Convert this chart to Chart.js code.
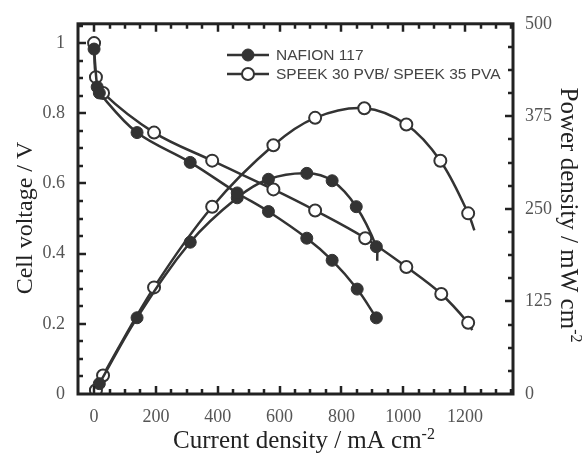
<!DOCTYPE html>
<html><head><meta charset="utf-8">
<script src="https://cdn.jsdelivr.net/npm/chart.js@4.4.0/dist/chart.umd.min.js"></script>
<style>html,body{margin:0;padding:0;background:#fff}#wrap{width:584px;height:454px;position:relative}</style>
</head><body><div id="wrap"><canvas id="c" width="584" height="454"></canvas></div>
<script>
// ---- data ----
const nafionCurrentV = [0, 10, 17, 139, 311, 463, 564, 688, 770, 851, 913];
const nafionVoltage  = [0.983, 0.875, 0.858, 0.745, 0.660, 0.573, 0.520, 0.444, 0.381, 0.299, 0.217];
const nafionCurrentP = [17, 139, 311, 463, 564, 688, 770, 848, 913];
const nafionPower    = [14, 103, 205, 265, 290, 298, 288, 253, 199];
const speekCurrentV  = [0, 6, 29, 194, 382, 580, 715, 877, 1010, 1123, 1210];
const speekVoltage   = [1.0, 0.903, 0.858, 0.745, 0.665, 0.583, 0.523, 0.444, 0.362, 0.285, 0.203];
const speekCurrentP  = [6, 29, 194, 382, 580, 715, 874, 1010, 1120, 1210];
const speekPower     = [5, 25, 144, 253, 336, 373, 386, 364, 315, 244];
// fitted-curve ends that run past the last marker (no marker drawn)
const nafionPowerTail = {x: 916, y: 180};
const speekVoltageTail = {x: 1223, y: 0.182};
const speekPowerTail = {x: 1230, y: 221};

const xTickValues  = [0, 200, 400, 600, 800, 1000, 1200];
const xTickLabels  = ['0', '200', '400', '600', '800', '1000', '1200'];
const yTickValues  = [0, 0.2, 0.4, 0.6, 0.8, 1];
const yTickLabels  = ['0', '0.2', '0.4', '0.6', '0.8', '1'];
const y2TickValues = [0, 125, 250, 375, 500];
const y2TickLabels = ['0', '125', '250', '375', '500'];
const seriesNames  = ['NAFION 117', 'SPEEK 30 PVB/ SPEEK 35 PVA'];
const xTitle  = ['Current density / mA cm', '-2'];
const yTitle  = 'Cell voltage / V';
const y2Title = ['Power density / mW cm', '-2'];

const toPts = (xs, ys) => xs.map((x, i) => ({x: x, y: ys[i]}));
const INK = '#333333';
const SERIF = '"Liberation Serif","Times New Roman",serif';
const SANS = '"Liberation Sans",Arial,sans-serif';

function ds(label, data, axis, filled, tail) {
  const pts = tail ? data.concat([tail]) : data;
  const radii = pts.map((p, i) => (tail && i === pts.length - 1) ? 0 : 6);
  return {
    label: label, data: pts, yAxisID: axis, showLine: true,
    borderColor: INK, borderWidth: 2.5, tension: 0.35,
    pointRadius: radii, pointHoverRadius: radii, pointBorderWidth: filled ? 1 : 2,
    pointBackgroundColor: filled ? INK : '#ffffff', pointBorderColor: INK
  };
}

function textSup(ctx, main, sup, size, cx, baseY) {
  ctx.font = size + 'px ' + SERIF;
  const w1 = ctx.measureText(main).width;
  ctx.font = Math.round(size * 0.62) + 'px ' + SERIF;
  const w2 = ctx.measureText(sup).width;
  const start = cx - (w1 + w2) / 2;
  ctx.textAlign = 'left'; ctx.textBaseline = 'alphabetic';
  ctx.font = size + 'px ' + SERIF;
  ctx.fillText(main, start, baseY);
  ctx.font = Math.round(size * 0.62) + 'px ' + SERIF;
  ctx.fillText(sup, start + w1, baseY - size * 0.38);
}

const framePlugin = {
  id: 'frame',
  afterDatasetsDraw(chart) {
    const ctx = chart.ctx, a = chart.chartArea;
    const sx = chart.scales.x, sy = chart.scales.y, sy2 = chart.scales.y1;
    ctx.save();
    ctx.strokeStyle = '#222'; ctx.lineWidth = 2.5; ctx.lineCap = 'butt';
    ctx.beginPath();
    for (let v = -50; v <= 1350; v += 50) {
      const px = Math.round(sx.getPixelForValue(v));
      if (px <= a.left + 1 || px >= a.right - 1) continue;
      const L = (v % 200 === 0) ? 8 : 5;
      ctx.moveTo(px, a.bottom); ctx.lineTo(px, a.bottom - L);
      ctx.moveTo(px, a.top); ctx.lineTo(px, a.top + L);
    }
    for (let i = 0; i <= 21; i++) {
      const v = i * 0.05;
      const py = Math.round(sy.getPixelForValue(v));
      if (py <= a.top + 1 || py >= a.bottom - 1) continue;
      const L = (i % 4 === 0) ? 8 : 5;
      ctx.moveTo(a.left, py); ctx.lineTo(a.left + L, py);
    }
    for (let i = 0; i <= 16; i++) {
      const v = i * 31.25;
      const py = Math.round(sy2.getPixelForValue(v));
      if (py <= a.top + 1 || py >= a.bottom - 1) continue;
      const L = (i % 4 === 0) ? 8 : 5;
      ctx.moveTo(a.right, py); ctx.lineTo(a.right - L, py);
    }
    ctx.stroke();
    ctx.lineWidth = 3;
    ctx.strokeRect(a.left, a.top, a.right - a.left, a.bottom - a.top);
    ctx.restore();
  },
  afterDraw(chart) {
    const ctx = chart.ctx;
    ctx.save();
    ctx.fillStyle = '#222';
    // bottom title
    textSup(ctx, xTitle[0], xTitle[1], 25, 304, 448);
    // left title
    ctx.save();
    ctx.translate(32, 218); ctx.rotate(-Math.PI / 2);
    ctx.font = '24px ' + SERIF; ctx.textAlign = 'center'; ctx.textBaseline = 'alphabetic';
    ctx.fillText(yTitle, 0, 0);
    ctx.restore();
    // right title
    ctx.save();
    ctx.translate(561, 215); ctx.rotate(Math.PI / 2);
    ctx.fillStyle = '#222';
    textSup(ctx, y2Title[0], y2Title[1], 25, 0, 0);
    ctx.restore();
    // legend
    const items = [{y: 55, filled: true}, {y: 74, filled: false}];
    items.forEach((it, i) => {
      ctx.strokeStyle = INK; ctx.lineWidth = 2.5;
      ctx.beginPath(); ctx.moveTo(227, it.y); ctx.lineTo(269, it.y); ctx.stroke();
      ctx.beginPath(); ctx.arc(248, it.y, 6, 0, Math.PI * 2);
      ctx.fillStyle = it.filled ? INK : '#fff'; ctx.fill();
      ctx.lineWidth = it.filled ? 1 : 2; ctx.stroke();
      ctx.fillStyle = '#444'; ctx.font = '15.5px ' + SANS;
      ctx.textAlign = 'left'; ctx.textBaseline = 'middle';
      ctx.fillText(seriesNames[i], 276, it.y + 1);
    });
    ctx.restore();
  }
};

function labelFor(values, labels) {
  return (v) => { const i = values.indexOf(v); return i >= 0 ? labels[i] : ''; };
}

new Chart(document.getElementById('c'), {
  type: 'scatter',
  data: {
    datasets: [
      ds(seriesNames[0] + ' V', toPts(nafionCurrentV, nafionVoltage), 'y', true, null),
      ds(seriesNames[0] + ' P', toPts(nafionCurrentP, nafionPower), 'y1', true, nafionPowerTail),
      ds(seriesNames[1] + ' V', toPts(speekCurrentV, speekVoltage), 'y', false, speekVoltageTail),
      ds(seriesNames[1] + ' P', toPts(speekCurrentP, speekPower), 'y1', false, speekPowerTail)
    ]
  },
  options: {
    responsive: false, animation: false, devicePixelRatio: 1,
    layout: {padding: {top: 22, left: 0, right: 0, bottom: 0}},
    plugins: {legend: {display: false}, tooltip: {enabled: false}},
    scales: {
      x: {
        type: 'linear', position: 'bottom', min: -52, max: 1355,
        grid: {display: false, drawTicks: false}, border: {display: false},
        afterBuildTicks: s => { s.ticks = xTickValues.map(v => ({value: v})); },
        afterFit: s => { s.height = 60; },
        ticks: {padding: 12, color: '#555', font: {family: SERIF, size: 18}, maxRotation: 0, autoSkip: false,
          callback: labelFor(xTickValues, xTickLabels)}
      },
      y: {
        type: 'linear', position: 'left', min: 0, max: 1.055,
        grid: {display: false, drawTicks: false}, border: {display: false},
        afterBuildTicks: s => { s.ticks = yTickValues.map(v => ({value: v})); },
        afterFit: s => { s.width = 78; },
        ticks: {padding: 13, color: '#555', font: {family: SERIF, size: 18}, autoSkip: false,
          callback: labelFor(yTickValues, yTickLabels)}
      },
      y1: {
        type: 'linear', position: 'right', min: 0, max: 500,
        grid: {display: false, drawTicks: false}, border: {display: false},
        afterBuildTicks: s => { s.ticks = y2TickValues.map(v => ({value: v})); },
        afterFit: s => { s.width = 71; },
        ticks: {padding: 12, color: '#555', font: {family: SERIF, size: 18}, autoSkip: false,
          callback: labelFor(y2TickValues, y2TickLabels)}
      }
    }
  },
  plugins: [framePlugin]
});
</script>
</body></html>
